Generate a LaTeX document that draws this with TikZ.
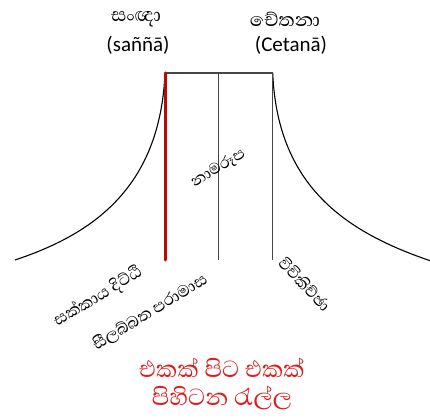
\documentclass[tikz,border=0pt]{standalone}
\usepackage{fontspec}
\setmainfont{Carlito}
\newfontfamily\sinfont[Script=Sinhala]{Abhaya Libre}
\definecolor{redline}{RGB}{180,10,10}
\definecolor{redtext}{RGB}{220,30,30}
\definecolor{grayline}{RGB}{70,70,70}
\begin{document}
\begin{tikzpicture}[x=1pt,y=-1pt,
  sinlabel/.style={font=\sinfont\fontsize{21}{24}\selectfont, inner sep=0pt},
  toplabel/.style={font=\sinfont\fontsize{24}{26}\selectfont, inner sep=0pt},
  latlabel/.style={font=\fontsize{21}{23}\selectfont, inner sep=0pt},
  redlabel/.style={font=\sinfont\fontsize{30}{28}\selectfont, text=redtext, inner sep=0pt, align=center},
  curve/.style={line width=1.1pt, black},
  bar/.style={line width=1.1pt, grayline}]
\useasboundingbox (0,0) rectangle (430,417);
\begin{scope}
\clip (0,0) rectangle (430,417);
\coordinate (tl) at (165,73);
\coordinate (tm) at (218.8,73);
\coordinate (tr) at (272.7,73);
\coordinate (bl) at (165,260);
\coordinate (bm) at (218.8,260);
\coordinate (br) at (272.7,260);
\coordinate (el) at (15,260);
\coordinate (er) at (440,264);
\draw[curve] (tl) .. controls (160,190) and (90,235) .. (el);
\draw[curve] (tr) .. controls (277.7,190) and (350,235) .. (er);
\draw[bar] (tl) -- (tr);
\draw[bar] (tm) -- (bm);
\draw[bar] (tr) -- (br);
\draw[line width=3pt, redline, line cap=round] (tl) -- (bl);
\end{scope}
\node[toplabel] (sanna) at (136,19) {සංඥා};
\node[latlabel] (sannalat) at (138,45) {(saññā)};
\node[toplabel] (cetana) at (285,19) {චේතනා};
\node[latlabel] (cetanalat) at (291,45) {(Cetanā)};
\node[sinlabel, font=\sinfont\fontsize{20}{22}\selectfont, rotate=31] (namarupa) at (218,168) {නාමරූප};
\node[sinlabel, rotate=31] (sakkaya) at (98,297) {සක්කාය දිට්ඨි};
\node[sinlabel, rotate=31.4] (silabbata) at (150,312) {සීලබ්බත පරාමාස};
\node[sinlabel, font=\sinfont\fontsize{20}{22}\selectfont, rotate=-46] (vicikiccha) at (305,284) {විචිකිච්ඡා};
\node[redlabel] (wave) at (222,384) {එකක් පිට එකක්\\පිහිටන රැල්ල};
\end{tikzpicture}
\end{document}
